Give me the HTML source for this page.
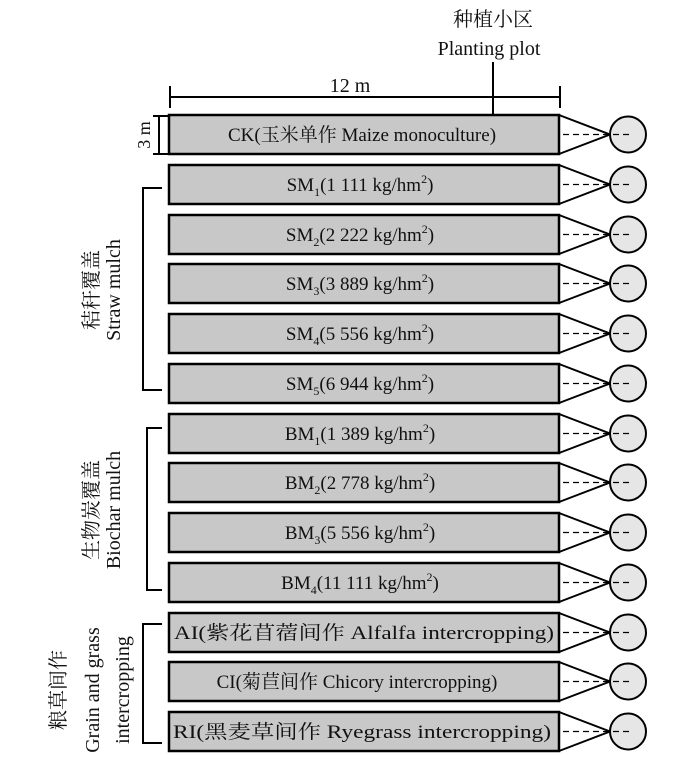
<!DOCTYPE html>
<html><head><meta charset="utf-8"><style>
html,body{margin:0;padding:0;background:#fff;}
svg{display:block;}
text{font-family:"Liberation Serif","Noto Serif CJK SC","Noto Sans CJK SC",serif;fill:#111;}
</style></head><body>
<svg width="700" height="759" viewBox="0 0 700 759" xmlns="http://www.w3.org/2000/svg">
<text x="493" y="26" font-size="20" text-anchor="middle">种植小区</text>
<text x="489" y="55" font-size="20" text-anchor="middle">Planting plot</text>
<line x1="493" y1="62" x2="493" y2="115" stroke="#000" stroke-width="2"/>
<text x="350" y="92" font-size="20" text-anchor="middle">12 m</text>
<line x1="170" y1="97" x2="560" y2="97" stroke="#000" stroke-width="2"/>
<line x1="170" y1="86" x2="170" y2="108" stroke="#000" stroke-width="2"/>
<line x1="560" y1="86" x2="560" y2="108" stroke="#000" stroke-width="2"/>
<line x1="159" y1="116" x2="159" y2="154" stroke="#000" stroke-width="2"/>
<line x1="153" y1="116" x2="169" y2="116" stroke="#000" stroke-width="2"/>
<line x1="153" y1="154" x2="169" y2="154" stroke="#000" stroke-width="2"/>
<text transform="translate(150,135) rotate(-90)" font-size="18" text-anchor="middle">3 m</text>
<g id="rows" stroke="#000" stroke-width="2.5">
</g>
<g font-size="19" text-anchor="middle">
<g stroke="#000" stroke-width="2.5" fill="#c8c8c8">
<rect x="169" y="115" width="390" height="39"/>
<rect x="169" y="165" width="390" height="39"/>
<rect x="169" y="215" width="390" height="39"/>
<rect x="169" y="264" width="390" height="39"/>
<rect x="169" y="314" width="390" height="39"/>
<rect x="169" y="364" width="390" height="39"/>
<rect x="169" y="414" width="390" height="39"/>
<rect x="169" y="463" width="390" height="39"/>
<rect x="169" y="513" width="390" height="39"/>
<rect x="169" y="563" width="390" height="39"/>
<rect x="169" y="613" width="390" height="39"/>
<rect x="169" y="662" width="390" height="39"/>
<rect x="169" y="712" width="390" height="39"/>
</g>
<g stroke="#000" stroke-width="2" fill="none">
<path d="M559 115 L610 134.5 L559 154"/><path d="M559 165 L610 184.5 L559 204"/>
<path d="M559 215 L610 234.5 L559 254"/><path d="M559 264 L610 283.5 L559 303"/>
<path d="M559 314 L610 333.5 L559 353"/><path d="M559 364 L610 383.5 L559 403"/>
<path d="M559 414 L610 433.5 L559 453"/><path d="M559 463 L610 482.5 L559 502"/>
<path d="M559 513 L610 532.5 L559 552"/><path d="M559 563 L610 582.5 L559 602"/>
<path d="M559 613 L610 632.5 L559 652"/><path d="M559 662 L610 681.5 L559 701"/>
<path d="M559 712 L610 731.5 L559 751"/>
</g>
<g stroke="#000" stroke-width="2" fill="#e6e6e6">
<circle cx="628" cy="134.5" r="18"/><circle cx="628" cy="184.5" r="18"/>
<circle cx="628" cy="234.5" r="18"/><circle cx="628" cy="283.5" r="18"/>
<circle cx="628" cy="333.5" r="18"/><circle cx="628" cy="383.5" r="18"/>
<circle cx="628" cy="433.5" r="18"/><circle cx="628" cy="482.5" r="18"/>
<circle cx="628" cy="532.5" r="18"/><circle cx="628" cy="582.5" r="18"/>
<circle cx="628" cy="632.5" r="18"/><circle cx="628" cy="681.5" r="18"/>
<circle cx="628" cy="731.5" r="18"/>
</g>
<g stroke="#000" stroke-width="1.3" stroke-dasharray="6,4">
<line x1="563" y1="134.5" x2="632" y2="134.5"/><line x1="563" y1="184.5" x2="632" y2="184.5"/>
<line x1="563" y1="234.5" x2="632" y2="234.5"/><line x1="563" y1="283.5" x2="632" y2="283.5"/>
<line x1="563" y1="333.5" x2="632" y2="333.5"/><line x1="563" y1="383.5" x2="632" y2="383.5"/>
<line x1="563" y1="433.5" x2="632" y2="433.5"/><line x1="563" y1="482.5" x2="632" y2="482.5"/>
<line x1="563" y1="532.5" x2="632" y2="532.5"/><line x1="563" y1="582.5" x2="632" y2="582.5"/>
<line x1="563" y1="632.5" x2="632" y2="632.5"/><line x1="563" y1="681.5" x2="632" y2="681.5"/>
<line x1="563" y1="731.5" x2="632" y2="731.5"/>
</g>
<text x="362" y="141">CK(玉米单作 Maize monoculture)</text>
<text x="360" y="191">SM<tspan font-size="12" dy="5">1</tspan><tspan dy="-5">(1 111 kg/hm</tspan><tspan font-size="12" dy="-8">2</tspan><tspan dy="8">)</tspan></text>
<text x="360" y="241">SM<tspan font-size="12" dy="5">2</tspan><tspan dy="-5">(2 222 kg/hm</tspan><tspan font-size="12" dy="-8">2</tspan><tspan dy="8">)</tspan></text>
<text x="360" y="290">SM<tspan font-size="12" dy="5">3</tspan><tspan dy="-5">(3 889 kg/hm</tspan><tspan font-size="12" dy="-8">2</tspan><tspan dy="8">)</tspan></text>
<text x="360" y="340">SM<tspan font-size="12" dy="5">4</tspan><tspan dy="-5">(5 556 kg/hm</tspan><tspan font-size="12" dy="-8">2</tspan><tspan dy="8">)</tspan></text>
<text x="360" y="390">SM<tspan font-size="12" dy="5">5</tspan><tspan dy="-5">(6 944 kg/hm</tspan><tspan font-size="12" dy="-8">2</tspan><tspan dy="8">)</tspan></text>
<text x="360" y="440">BM<tspan font-size="12" dy="5">1</tspan><tspan dy="-5">(1 389 kg/hm</tspan><tspan font-size="12" dy="-8">2</tspan><tspan dy="8">)</tspan></text>
<text x="360" y="489">BM<tspan font-size="12" dy="5">2</tspan><tspan dy="-5">(2 778 kg/hm</tspan><tspan font-size="12" dy="-8">2</tspan><tspan dy="8">)</tspan></text>
<text x="360" y="539">BM<tspan font-size="12" dy="5">3</tspan><tspan dy="-5">(5 556 kg/hm</tspan><tspan font-size="12" dy="-8">2</tspan><tspan dy="8">)</tspan></text>
<text x="360" y="589">BM<tspan font-size="12" dy="5">4</tspan><tspan dy="-5">(11 111 kg/hm</tspan><tspan font-size="12" dy="-8">2</tspan><tspan dy="8">)</tspan></text>
<text x="364" y="639" textLength="380" lengthAdjust="spacingAndGlyphs">AI(紫花苜蓿间作 Alfalfa intercropping)</text>
<text x="357" y="688">CI(菊苣间作 Chicory intercropping)</text>
<text x="362" y="738" textLength="378" lengthAdjust="spacingAndGlyphs">RI(黑麦草间作 Ryegrass intercropping)</text>
</g>
<g stroke="#000" stroke-width="2" fill="none">
<path d="M162 188 H143 V390 H162"/>
<path d="M162 428 H147 V590 H162"/>
<path d="M162 624 H143 V743 H162"/>
</g>
<g font-size="20" text-anchor="middle">
<text transform="translate(98,290) rotate(-90)">秸秆覆盖</text>
<text transform="translate(120,290) rotate(-90)">Straw mulch</text>
<text transform="translate(98,510) rotate(-90)">生物炭覆盖</text>
<text transform="translate(120,510) rotate(-90)">Biochar mulch</text>
<text transform="translate(65,690) rotate(-90)">粮草间作</text>
<text transform="translate(99,690) rotate(-90)">Grain and grass</text>
<text transform="translate(129,690) rotate(-90)">intercropping</text>
</g>
</svg>
</body></html>
